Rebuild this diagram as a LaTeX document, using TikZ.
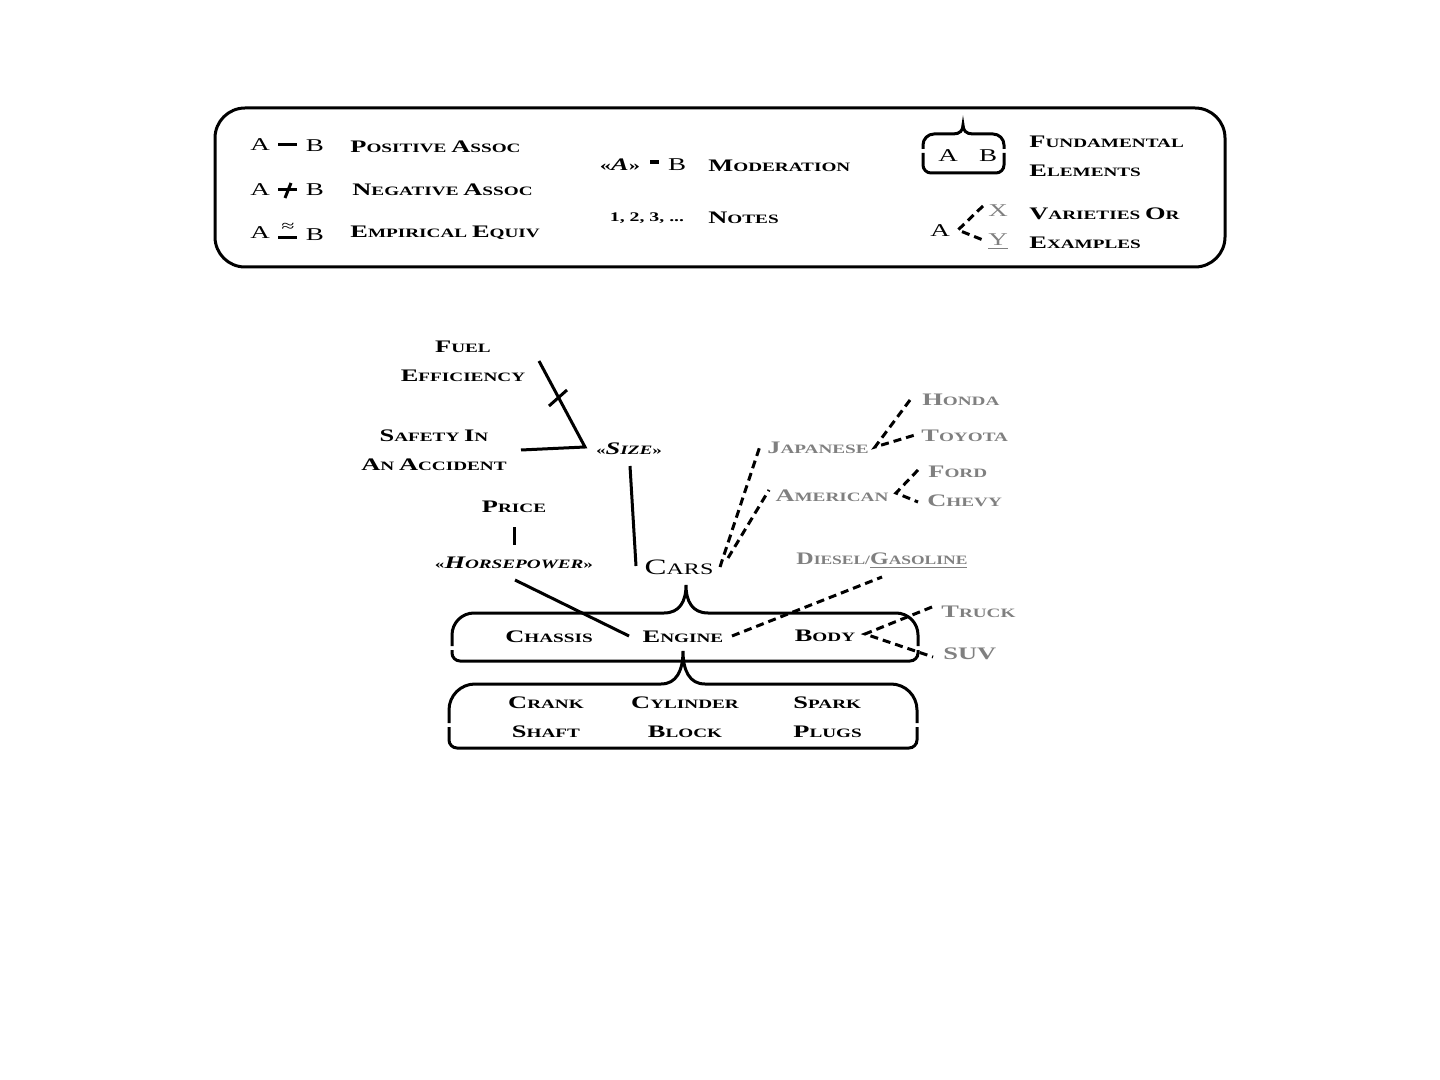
\documentclass[tikz,border=0pt]{standalone}
\usepackage{fontspec}
\setmainfont{Liberation Serif}[FakeStretch=1.5]
\definecolor{vgray}{HTML}{808080}
\newcommand\bigsz{8.8}
\newcommand\W[1]{\Wx#1\relax}
\def\Wx#1#2\relax{{\fontsize{\bigsz}{14.5}\selectfont #1}\MakeUppercase{#2}}
% x0, x1, top, bottom, cusp x, cusp y, gap y, cusp half width, top radius
\newcommand\Bracket[9]{%
  \draw[solidln] (#1,{#7-2}) -- (#1,{#3+#9})
    .. controls (#1,{#3+0.448*#9}) and ({#1+0.448*#9},#3) .. ({#1+#9},#3)
    -- ({#5-#8},#3)
    .. controls ({#5-#8*0.3},#3) and (#5,{#3-(#3-#6)*0.4}) .. (#5,#6)
    .. controls (#5,{#3-(#3-#6)*0.4}) and ({#5+#8*0.3},#3) .. ({#5+#8},#3)
    -- ({#2-#9},#3)
    .. controls ({#2-0.448*#9},#3) and (#2,{#3+0.448*#9}) .. (#2,{#3+#9})
    -- (#2,{#7-2});
  \draw[solidln] (#1,{#7+2}) -- (#1,{#4-8})
    .. controls (#1,{#4-3.6}) and ({#1+3.6},#4) .. ({#1+8},#4)
    -- ({#2-8},#4)
    .. controls ({#2-3.6},#4) and (#2,{#4-3.6}) .. (#2,{#4-8})
    -- (#2,{#7+2});}
\begin{document}
\begin{tikzpicture}[x=0.5pt,y=-0.5pt,
  solidln/.style={line width=1.5pt},
  dashln/.style={line width=1.5pt, dash pattern=on 4pt off 2.5pt},
  lbl/.style={inner sep=0pt, font=\fontsize{6.4}{14.5}\selectfont\bfseries, align=center},
  glbl/.style={lbl, text=vgray},
  letr/.style={inner sep=0pt, font=\fontsize{9}{10}\selectfont},
  gletr/.style={letr, text=vgray}]
\useasboundingbox (0,0) rectangle (1440,1080);

% ---------- legend ----------
\draw[line width=1.5pt, rounded corners=15pt] (215,108) rectangle (1225,267);

\node[letr] (la1) at (260,145) {A};
\node[letr] (lb1) at (315,146) {B};
\coordinate (p1a) at (278,145); \coordinate (p1b) at (297,145);
\draw[solidln] (p1a) -- (p1b);
\node[lbl, anchor=west] (pos) at (350,147) {\W{Positive} \W{Assoc}};

\node[letr] (la2) at (260,190) {A};
\node[letr] (lb2) at (315,190) {B};
\coordinate (p2a) at (278,190); \coordinate (p2b) at (297,190);
\coordinate (t2a) at (285,198); \coordinate (t2b) at (291,183);
\draw[solidln] (p2a) -- (p2b);
\draw[solidln] (t2a) -- (t2b);
\node[lbl, anchor=west] (neg) at (352,190) {\W{Negative} \W{Assoc}};

\node[letr] (la3) at (260,233) {A};
\node[letr] (lb3) at (315,235) {B};
\coordinate (p3a) at (278,238); \coordinate (p3b) at (297,238);
\draw[solidln] (p3a) -- (p3b);
\node[inner sep=0pt, font=\fontsize{8}{8}\selectfont] (approx) at (288,227) {≈};
\node[lbl, anchor=west] (emp) at (350,233) {\W{Empirical} \W{Equiv}};

\node[inner sep=0pt, font=\fontsize{7.5}{8}\selectfont\bfseries] (modA) at (620,165) {«{\fontsize{8.8}{10}\selectfont\itshape A}»};
\coordinate (md1) at (650,162); \coordinate (md2) at (659,162);
\draw[line width=1.6pt] (md1) -- (md2);
\node[letr] (modB) at (677,165) {B};
\node[lbl, anchor=west] (mod) at (708,166) {\W{Moderation}};

\node[inner sep=0pt, font=\fontsize{6.6}{8}\selectfont\bfseries] (nums) at (647,218) {1, 2, 3, ...};
\node[lbl, anchor=west] (notes) at (708,218) {\W{Notes}};

\Bracket{923}{1004}{134}{173}{963}{125}{151}{10}{11}
\node[letr] (fa) at (948,156) {A};
\node[letr] (fb) at (988,156) {B};
\node[lbl, anchor=west, align=left] (fund) at (1029,156) {\W{Fundamental}\\\W{Elements}};

\node[letr] (va) at (940,231) {A};
\coordinate (vv) at (958,230);
\node[gletr] (vx) at (998,211) {X};
\node[gletr] (vy) at (998,242) {\underline{Y}};
\coordinate (vxe) at (983,206); \coordinate (vye) at (983,240);
\draw[dashln] (vxe) -- (vv) -- (vye);
\node[lbl, anchor=west, align=left] (vars) at (1029,228) {\W{Varieties} \W{Or}\\\W{Examples}};

% ---------- main diagram ----------
\node[lbl] (fuel) at (463,361) {\W{Fuel}\\\W{Efficiency}};
\node[lbl] (safety) at (434,450) {\W{Safety} \W{In}\\\W{An} \W{Accident}};
\node[lbl] (size) at (629,449) {«{\itshape\W{Size}}»};
\node[lbl] (price) at (514,507) {\W{Price}};
\node[lbl] (hp) at (514,563) {«{\itshape\W{Horsepower}}»};
\node[inner sep=0pt, font=\fontsize{8}{10}\selectfont] (cars) at (679,567) {{\fontsize{11}{12}\selectfont C}ARS};

\node[lbl] (chassis) at (549,637) {\W{Chassis}};
\node[lbl] (engine) at (683,637) {\W{Engine}};
\node[lbl] (body) at (825,636) {\W{Body}};

\node[lbl] (crank) at (546,717) {\W{Crank}\\\W{Shaft}};
\node[lbl] (cyl) at (685,717) {\W{Cylinder}\\\W{Block}};
\node[lbl, anchor=west, align=left] (spark) at (793,717) {\W{Spark}\\\W{Plugs}};

\node[glbl] (jap) at (818,448) {\W{Japanese}};
\node[glbl] (amer) at (832,496) {\W{American}};
\node[glbl, anchor=west] (honda) at (922,400) {\W{Honda}};
\node[glbl, anchor=west] (toyota) at (921,436) {\W{Toyota}};
\node[glbl, anchor=west] (ford) at (928,472) {\W{Ford}};
\node[glbl, anchor=west] (chevy) at (927,501) {\W{Chevy}};
\node[glbl, anchor=west] (diesel) at (796,561) {\scalebox{0.91}[1]{\W{Diesel}/\underline{\W{Gasoline}}}};
\node[glbl, anchor=west] (truck) at (941,612) {\W{Truck}};
\node[glbl, anchor=west] (suv) at (943,654) {{\fontsize{\bigsz}{10}\selectfont SUV}};

% brackets
\Bracket{452}{918}{613}{661}{686}{585}{648}{22}{22}
\Bracket{449}{917}{684}{748}{683}{651}{725}{22}{26}

% solid connectors
\coordinate (fe1) at (539,361);
\coordinate (vsz) at (585,447);
\coordinate (sf1) at (521,450);
\draw[solidln, line join=miter] (fe1) -- (vsz) -- (sf1);
\coordinate (tk1) at (549,406); \coordinate (tk2) at (567,390);
\draw[solidln] (tk1) -- (tk2);
\coordinate (sz1) at (630,466); \coordinate (cr1) at (636,566);
\draw[solidln] (sz1) -- (cr1);
\coordinate (pr1) at (514,527); \coordinate (hp1) at (514,545);
\draw[solidln] (pr1) -- (hp1);
\coordinate (hp2) at (515,580); \coordinate (en1) at (629,636);
\draw[solidln] (hp2) -- (en1);

% dashed connectors
\coordinate (cj1) at (720,567); \coordinate (cj2) at (760,446);
\draw[dashln] (cj1) -- (cj2);
\coordinate (ca1) at (728,558); \coordinate (ca2) at (769,490);
\draw[dashln] (ca1) -- (ca2);
\coordinate (jv) at (875,447);
\coordinate (hd) at (910,400); \coordinate (ty) at (915,435);
\draw[dashln] (hd) -- (jv) -- (ty);
\coordinate (av) at (896,493);
\coordinate (fd) at (918,470); \coordinate (cv) at (918,502);
\draw[dashln] (fd) -- (av) -- (cv);
\coordinate (eg1) at (732,636); \coordinate (dg1) at (882,577);
\draw[dashln] (eg1) -- (dg1);
\coordinate (bv) at (865,634);
\coordinate (tr) at (932,607); \coordinate (sv) at (933,657);
\draw[dashln] (tr) -- (bv) -- (sv);
\end{tikzpicture}
\end{document}
